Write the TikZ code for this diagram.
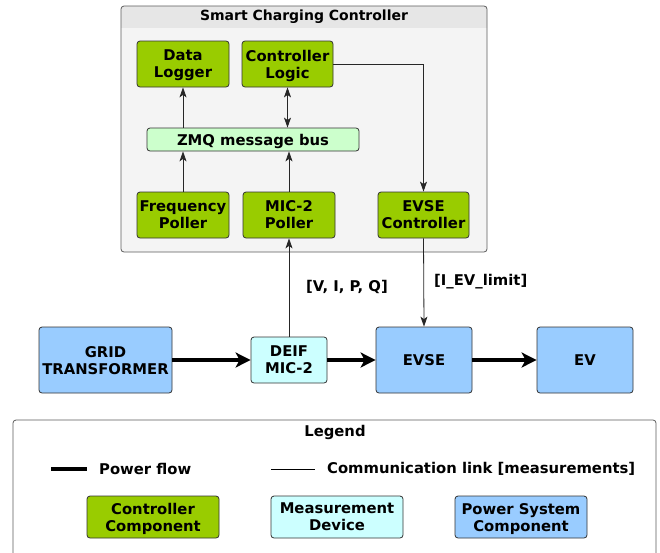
\documentclass[tikz,border=0pt]{standalone}
\usepackage{fontspec}
\setmainfont{DejaVu Sans}
\usetikzlibrary{arrows.meta}
\definecolor{ctrlgreen}{HTML}{99CC00}
\definecolor{busgreen}{HTML}{CCFFCC}
\definecolor{meascyan}{HTML}{CCFFFF}
\definecolor{powblue}{HTML}{99CCFF}
\definecolor{panelgray}{HTML}{F4F4F4}
\definecolor{bandgray}{HTML}{E6E6E6}
\definecolor{edgegray}{HTML}{333333}
\tikzset{
  box/.style={draw=edgegray, rounded corners=3pt, line width=0.8pt, align=center,
    inner sep=0pt, text depth=0pt, font=\bfseries\fontsize{14.8}{17}\selectfont},
  ctrl/.style={box, fill=ctrlgreen, minimum width=92pt, minimum height=46pt},
  power/.style={box, fill=powblue, minimum width=96pt, minimum height=66pt},
  commtip/.tip={Stealth[length=10pt,width=7pt,inset=2.5pt]},
  comm/.style={draw=black!85, line width=0.8pt, -commtip},
  flow/.style={draw=black, line width=4pt, -{Stealth[length=15pt,width=15pt,inset=4pt]}},
  lbl/.style={font=\bfseries\fontsize{14.8}{17}\selectfont, inner sep=0pt},
}
\begin{document}
\begin{tikzpicture}[x=1pt,y=-1pt]
\useasboundingbox (0,0) rectangle (660,552);

% controller panel with its title band
\fill[panelgray, rounded corners=3pt] (121,6) rectangle (487,252);
\begin{scope}
  \clip (121,6) rectangle (487,27);
  \fill[bandgray, rounded corners=3pt] (121,6) rectangle (487,252);
\end{scope}
\draw[edgegray!80, line width=0.8pt, rounded corners=3pt] (121,6) rectangle (487,252);
\node[lbl, font=\bfseries\fontsize{14}{16}\selectfont] (paneltitle) at (304,17) {Smart Charging Controller};

% controller components
\node[ctrl] (dl) at (183,64) {Data\\Logger};
\node[ctrl, minimum width=91pt] (cl) at (287.5,64) {Controller\\Logic};
\node[box, fill=busgreen, minimum width=212pt, minimum height=23pt] (bus) at (253,139.5) {ZMQ message bus};
\node[ctrl] (fp) at (183,215) {Frequency\\Poller};
\node[ctrl] (mp) at (289,215) {MIC-2\\Poller};
\node[ctrl, minimum width=91pt] (ec) at (423.5,215) {EVSE\\Controller};

% power system row
\node[power, minimum width=133pt] (grid) at (105.5,360) {GRID\\TRANSFORMER};
\node[box, fill=meascyan, minimum width=76pt, minimum height=46pt] (deif) at (289,360) {DEIF\\MIC-2};
\node[power] (evse) at (424,360) {EVSE};
\node[power] (ev) at (585,360) {EV};

% communication links
\draw[comm] (bus.north -| dl) -- (dl.south);
\draw[comm, commtip-commtip] (cl.south) -- (bus.north -| cl);
\draw[comm] (fp.north) -- (fp.north |- bus.south);
\draw[comm] (mp.north) -- (mp.north |- bus.south);
\draw[comm] (cl.east) -| (ec.north);
\draw[comm] (deif.north) -- (mp.south);
\draw[comm] (ec.south) -- (evse.north);
\node[lbl, anchor=west] (measlbl) at (306,287) {[V, I, P, Q]};
\node[lbl, anchor=west] (limitlbl) at (434,282) {[I\_EV\_limit]};

% power flow
\draw[flow] (grid) -- (deif);
\draw[flow] (deif) -- (evse);
\draw[flow] (evse) -- (ev);

% legend
\draw[edgegray!80, line width=0.8pt, rounded corners=3pt, fill=white] (13,420) rectangle (656,558);
\node[lbl] (legtitle) at (335,432) {Legend};
\coordinate (pf1) at (51,469);
\coordinate (pf2) at (87,469);
\draw[line width=4pt] (pf1) -- (pf2);
\node[lbl, anchor=west] (pflbl) at (99,469) {Power flow};
\coordinate (cm1) at (271,469);
\coordinate (cm2) at (315,469);
\draw[line width=0.8pt] (cm1) -- (cm2);
\node[lbl, anchor=west] (cmlbl) at (327,469) {Communication link [measurements]};
\node[box, fill=ctrlgreen, minimum width=132pt, minimum height=42pt] (legctrl) at (153,517) {Controller\\Component};
\node[box, fill=meascyan, minimum width=132pt, minimum height=42pt] (legmeas) at (337,517) {Measurement\\Device};
\node[box, fill=powblue, minimum width=132pt, minimum height=42pt] (legpow) at (521,517) {Power System\\Component};
\end{tikzpicture}
\end{document}
